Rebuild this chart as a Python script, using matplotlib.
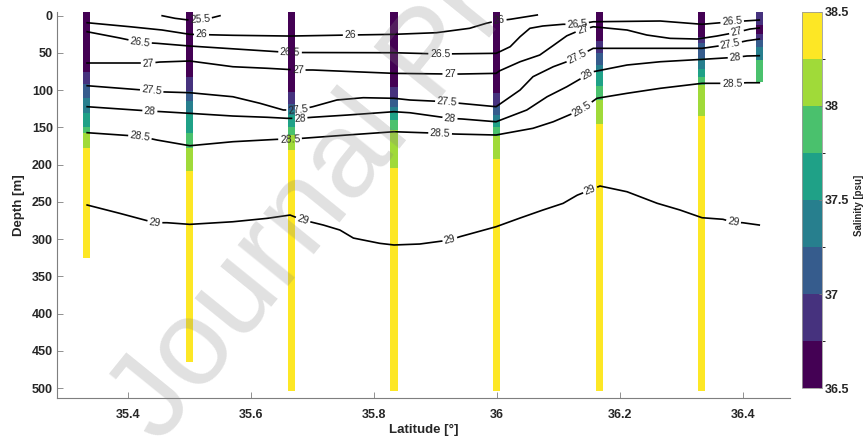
import matplotlib
matplotlib.use("Agg")
import matplotlib.pyplot as plt
import numpy as np
from matplotlib.colors import BoundaryNorm

plt.rcParams['font.family'] = ['Liberation Sans', 'DejaVu Sans']

# CTD stations along the section (deg N)
station_lat = [35.333, 35.5, 35.667, 35.833, 36.0, 36.167, 36.333, 36.427]

# salinity layers per cast: depth edges [m] and layer salinity [psu]
st1_z = [-4.5, 75, 92, 110, 130, 150, 158, 177, 325]
st1_s = [36.6, 36.9, 37.1, 37.4, 37.6, 37.9, 38.1, 38.4]
st2_z = [-4.5, 82, 101, 114, 132, 158, 177, 209, 465]
st2_s = [36.6, 36.9, 37.1, 37.4, 37.6, 37.9, 38.1, 38.4]
st3_z = [-4.5, 102, 118, 126, 133, 149, 160, 181, 504]
st3_s = [36.6, 36.9, 37.1, 37.4, 37.6, 37.9, 38.1, 38.4]
st4_z = [-4.5, 96, 112, 122, 130, 140, 153, 205, 504]
st4_s = [36.6, 36.9, 37.1, 37.4, 37.6, 37.9, 38.1, 38.4]
st5_z = [-4.5, 104, 121, 133, 142, 149, 162, 193, 504]
st5_s = [36.6, 36.9, 37.1, 37.4, 37.6, 37.9, 38.1, 38.4]
st6_z = [-4.5, 34, 50, 66, 75, 95, 113, 145, 504]
st6_s = [36.6, 36.9, 37.1, 37.4, 37.6, 37.9, 38.1, 38.4]
st7_z = [-4.5, 28, 37, 57, 71, 82, 93, 135, 504]
st7_s = [36.6, 36.9, 37.1, 37.4, 37.6, 37.9, 38.1, 38.4]
st8_z = [-4.5, 12, 25, 33, 42, 60, 89]
st8_s = [36.9, 36.6, 36.9, 37.1, 37.4, 37.9]

# isopycnals (sigma-theta): latitude, depth and where the labels sit
iso255_lat = [35.456, 35.477, 35.501, 35.526, 35.550]
iso255_z = [0, 3.5, 6, 5, 0]
iso255_lab = [35.518]

iso26_lat = [35.334, 35.404, 35.456, 35.501, 35.571, 35.664, 35.762, 35.833, 35.902, 35.956, 35.983, 35.999, 36.022, 36.066]
iso26_z = [9.4, 14.8, 19.2, 25.0, 26.3, 27.3, 25.9, 25.0, 22.8, 16.9, 10.2, 7.1, 4.8, -1.0]
iso26_lab = [35.52, 35.762, 36.004]

iso265_lat = [35.334, 35.387, 35.42, 35.448, 35.501, 35.643, 35.664, 35.833, 35.908, 35.999, 36.005, 36.022, 36.038, 36.054, 36.075, 36.108, 36.131, 36.157, 36.266, 36.334, 36.383, 36.427]
iso265_z = [21.5, 29.9, 35.7, 37.1, 40.7, 48.3, 49.4, 49.7, 51.4, 50.5, 48.3, 41.6, 28.2, 16.9, 13.8, 11.5, 11.5, 8.1, 7.1, 11.5, 8.1, 5.8]
iso265_lab = [35.42, 35.664, 35.908, 36.131, 36.383]

iso27_lat = [35.334, 35.433, 35.452, 35.501, 35.571, 35.627, 35.677, 35.701, 35.833, 35.924, 35.94, 35.999, 36.005, 36.038, 36.07, 36.092, 36.114, 36.131, 36.157, 36.212, 36.244, 36.282, 36.326, 36.358, 36.39, 36.412, 36.427]
iso27_z = [63.9, 63.9, 62.2, 60.8, 68.5, 70.6, 72.9, 72.9, 77.4, 78.3, 78.3, 77.4, 73.9, 61.8, 52.8, 40, 27, 21, 14.8, 19.2, 25.9, 30.4, 31.3, 27.3, 22.3, 17.9, 16.5]
iso27_lab = [35.433, 35.677, 35.924, 36.14, 36.39]

iso275_lat = [35.334, 35.439, 35.448, 35.501, 35.571, 35.615, 35.653, 35.677, 35.701, 35.74, 35.783, 35.833, 35.859, 35.919, 35.94, 35.999, 36.038, 36.059, 36.092, 36.114, 36.131, 36.157, 36.212, 36.334, 36.38, 36.407, 36.427]
iso275_z = [94, 100.7, 102.1, 103.4, 108.8, 117.6, 126.6, 126.6, 122.2, 113.2, 110.1, 110.9, 113.2, 115.5, 117.6, 122.2, 99.8, 81.9, 68.5, 61.8, 55, 43.8, 43.8, 43.8, 38.4, 33.6, 31.3]
iso275_lab = [35.439, 35.677, 35.919, 36.131, 36.38]

iso28_lat = [35.334, 35.436, 35.456, 35.501, 35.571, 35.627, 35.659, 35.68, 35.70, 35.757, 35.833, 35.859, 35.924, 35.944, 35.999, 36.049, 36.082, 36.114, 36.147, 36.157, 36.212, 36.266, 36.334, 36.388, 36.407, 36.427]
iso28_z = [122.2, 128, 128.9, 131.1, 134.7, 136.4, 137.8, 137.8, 136.4, 133.4, 128.9, 130.3, 137.8, 138.7, 142.4, 126.6, 108.8, 95.4, 79.6, 75.2, 66.2, 61.8, 58.6, 55.9, 54.1, 53.7]
iso28_lab = [35.436, 35.68, 35.924, 36.147, 36.388]

iso285_lat = [35.334, 35.42, 35.448, 35.501, 35.571, 35.643, 35.664, 35.683, 35.757, 35.833, 35.908, 35.932, 35.999, 36.059, 36.092, 36.124, 36.139, 36.163, 36.212, 36.266, 36.334, 36.383, 36.407, 36.427]
iso285_z = [157.1, 162, 167, 174.6, 169.2, 166, 166, 164.7, 160.2, 155.8, 157.9, 158.9, 160.2, 151.2, 142.4, 131.1, 125.3, 110.9, 104.2, 97.5, 90.8, 90.8, 90, 90]
iso285_lab = [35.42, 35.664, 35.908, 36.139, 36.383]

iso29_lat = [35.334, 35.387, 35.444, 35.464, 35.501, 35.571, 35.627, 35.664, 35.685, 35.718, 35.745, 35.767, 35.81, 35.833, 35.875, 35.924, 35.94, 35.999, 36.037, 36.075, 36.108, 36.131, 36.152, 36.168, 36.212, 36.261, 36.298, 36.334, 36.368, 36.385, 36.40, 36.427]
iso29_z = [254.2, 265.4, 278, 278, 280.2, 276.7, 272.1, 267.7, 274.4, 281.1, 287.8, 298.6, 305.7, 307.9, 306.6, 301.2, 296.8, 283.4, 272, 261, 252, 241, 234.1, 228.7, 236.4, 251.9, 260.9, 271.3, 273.4, 277.5, 278, 281.1]
iso29_lab = [35.444, 35.685, 35.924, 36.152, 36.385]

sal_levels = np.arange(36.5, 38.51, 0.25)
sal_ticks = [36.5, 37, 37.5, 38, 38.5]
lat_ticks = [35.4, 35.6, 35.8, 36.0, 36.2, 36.4]
depth_ticks = np.arange(0, 501, 50)

W, H = 867, 442
fig = plt.figure(figsize=(W / 100, H / 100), dpi=100)
ax = fig.add_axes([57 / W, 1 - 398 / H, 733 / W, 386.3 / H])
ax.set_xlim(35.285, 36.477)
ax.set_ylim(513.4, -5.4)

cmap = plt.get_cmap('viridis', 8)
norm = BoundaryNorm(sal_levels, cmap.N)

# each cast as a thin column of salinity cells
bar_w = 0.0115
casts = [(st1_z, st1_s), (st2_z, st2_s), (st3_z, st3_s), (st4_z, st4_s),
         (st5_z, st5_s), (st6_z, st6_s), (st7_z, st7_s), (st8_z, st8_s)]
for lat, (z, s) in zip(station_lat, casts):
    xe = [lat - bar_w / 2, lat + bar_w / 2]
    mesh = ax.pcolormesh(xe, z, np.array(s).reshape(-1, 1), cmap=cmap, norm=norm,
                         shading='flat', zorder=2)

renderer = fig.canvas.get_renderer()


def isopycnal(lat, z, level, lab_lat):
    # draw one density contour with inline labels cut into the line
    xy = ax.transData.transform(np.column_stack([lat, z]))
    s = np.r_[0, np.cumsum(np.hypot(*np.diff(xy, axis=0).T))]
    gaps = []
    for la in lab_lat:
        xl = ax.transData.transform((la, 0))[0]
        sl = np.interp(xl, xy[:, 0], s)
        x0, y0 = np.interp(sl - 6, s, xy[:, 0]), np.interp(sl - 6, s, xy[:, 1])
        x1, y1 = np.interp(sl + 6, s, xy[:, 0]), np.interp(sl + 6, s, xy[:, 1])
        ang = np.degrees(np.arctan2(y1 - y0, x1 - x0))
        if ang > 90:
            ang -= 180
        elif ang < -90:
            ang += 180
        xc, yc = np.interp(sl, s, xy[:, 0]), np.interp(sl, s, xy[:, 1])
        dl, dz = ax.transData.inverted().transform((xc, yc))
        t = ax.text(dl, dz, f'{level:g}', fontsize=7.5, color='#262626',
                    ha='center', va='center', rotation_mode='anchor', zorder=4)
        w = t.get_window_extent(renderer).width
        t.set_rotation(ang)
        gaps.append((sl - w / 2 - 2.5, sl + w / 2 + 2.5))
    gaps.sort()
    start = 0.0
    pieces = []
    for a, b in gaps:
        if a > start:
            pieces.append((start, a))
        start = max(start, b)
    if start < s[-1]:
        pieces.append((start, s[-1]))
    for a, b in pieces:
        ss = np.r_[a, s[(s > a) & (s < b)], b]
        pts = np.column_stack([np.interp(ss, s, xy[:, 0]), np.interp(ss, s, xy[:, 1])])
        d = ax.transData.inverted().transform(pts)
        ax.plot(d[:, 0], d[:, 1], color='k', lw=1.2, zorder=3)


isopycnal(iso255_lat, iso255_z, 25.5, iso255_lab)
isopycnal(iso26_lat, iso26_z, 26, iso26_lab)
isopycnal(iso265_lat, iso265_z, 26.5, iso265_lab)
isopycnal(iso27_lat, iso27_z, 27, iso27_lab)
isopycnal(iso275_lat, iso275_z, 27.5, iso275_lab)
isopycnal(iso28_lat, iso28_z, 28, iso28_lab)
isopycnal(iso285_lat, iso285_z, 28.5, iso285_lab)
isopycnal(iso29_lat, iso29_z, 29, iso29_lab)

# axes styling
for side in ['top', 'right']:
    ax.spines[side].set_visible(False)
for side in ['left', 'bottom']:
    ax.spines[side].set_color('#7f7f7f')
    ax.spines[side].set_linewidth(0.8)
ax.set_xticks(lat_ticks)
ax.set_xticklabels([f'{v:g}' for v in lat_ticks])
ax.set_yticks(depth_ticks)
ax.tick_params(direction='in', length=4, width=0.6, color='#7f7f7f',
               labelcolor='#262626', labelsize=9)
ax.tick_params(axis='x', pad=8)
ax.tick_params(axis='y', pad=3)
for lab in ax.get_xticklabels() + ax.get_yticklabels():
    lab.set_fontweight('bold')
ax.set_xlabel('Latitude [°]', fontsize=9.5, fontweight='bold', color='#262626')
ax.set_ylabel('Depth [m]', fontsize=9.5, fontweight='bold', color='#262626')
ax.xaxis.set_label_coords(0.5, -0.068)
ax.yaxis.set_label_coords(-0.043, 0.5)

# colorbar
cax = fig.add_axes([801.7 / W, 1 - 388.3 / H, 20 / W, 376.6 / H])
cb = fig.colorbar(mesh, cax=cax, ticks=sal_ticks)
cb.ax.set_yticklabels([f'{v:g}' for v in sal_ticks])
cb.outline.set_edgecolor('#9a9a9a')
cb.outline.set_linewidth(0.6)
cb.ax.tick_params(direction='in', length=2, width=0.6, color='#7f7f7f',
                  labelcolor='#262626', labelsize=9, pad=2)
for lab in cb.ax.get_yticklabels():
    lab.set_fontweight('bold')
fig.text(859 / W, 1 - 205 / H, 'Salinity [psu]', rotation=90, ha='center', va='center',
         fontsize=7, fontweight='bold', color='#262626')

# preprint watermark
fig.text(160 / W, 1 - 445 / H, 'Journal Pre-proof', rotation=51, rotation_mode='anchor',
         ha='left', va='baseline', fontsize=88, color='#808080', alpha=0.24, zorder=10)

fig.savefig('out.png', dpi=100, facecolor='white')
